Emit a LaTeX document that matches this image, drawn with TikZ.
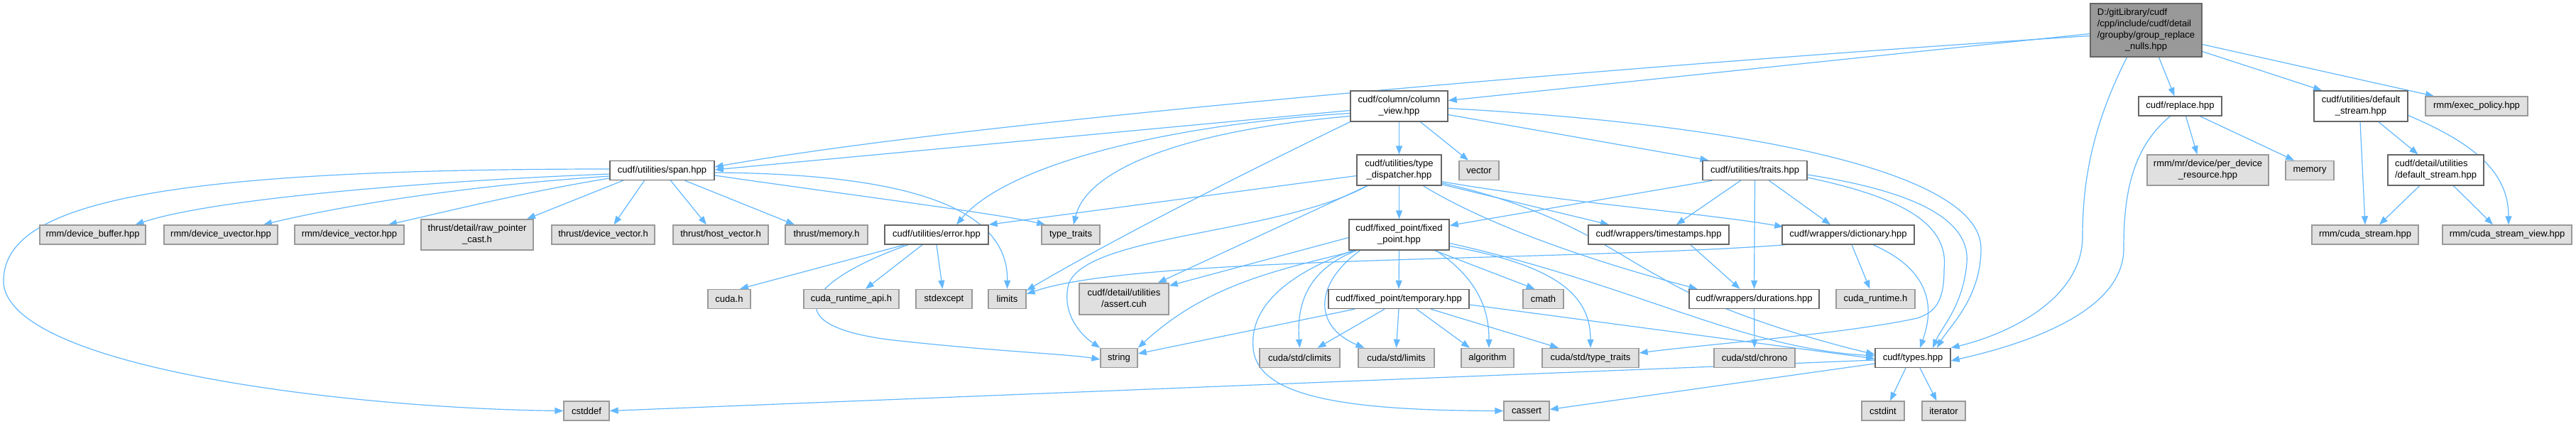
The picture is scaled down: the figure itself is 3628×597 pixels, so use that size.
\documentclass[tikz,border=0pt]{standalone}
\usepackage{fontspec}
\setmainfont{Liberation Sans}
\usetikzlibrary{arrows.meta,backgrounds}
\definecolor{edgec}{HTML}{63B8FF}
\definecolor{extfill}{HTML}{E0E0E0}
\definecolor{extdraw}{HTML}{999999}
\definecolor{docdraw}{HTML}{666666}
\definecolor{rootfill}{HTML}{999999}
\newcommand{\twol}[2]{\begin{tabular}{@{}l@{}}#1\\\multicolumn{1}{@{}c@{}}{#2}\end{tabular}}
\begin{document}
\begin{tikzpicture}[x=1pt,y=-1pt,
  box/.style={draw, line width=1.4pt, inner sep=0pt, font=\fontsize{13}{16}\selectfont, align=center},
  doc/.style={box, draw=docdraw, fill=white},
  ext/.style={box, draw=extdraw, fill=extfill},
  rootn/.style={box, draw=docdraw, fill=rootfill},
  sz/.style 2 args={minimum width=#1pt, minimum height=#2pt},
  dep/.style={draw=edgec, line width=1.2pt, -{Triangle[length=12pt,width=9pt]}},
]
\useasboundingbox (0,0) rectangle (3628,597);
% nodes
\node[rootn,sz={157}{75}] (root) at (3022.5,42.5) {\begin{tabular}{@{}l@{}}D:/gitLibrary/cudf\\/cpp/include/cudf/detail\\/groupby/group\_replace\\\multicolumn{1}{@{}c@{}}{\_nulls.hpp}\end{tabular}};
\node[doc,sz={137}{43}] (colview) at (1970.5,149.5) {\twol{cudf/column/column}{\_view.hpp}};
\node[doc,sz={117}{27}] (replace) at (3070.5,149.5) {cudf/replace.hpp};
\node[doc,sz={132}{43}] (defstream) at (3325,149.5) {\twol{cudf/utilities/default}{\_stream.hpp}};
\node[ext,sz={144}{27}] (execpolicy) at (3488,149.5) {rmm/exec\_policy.hpp};
\node[doc,sz={147}{27}] (span) at (932.5,240) {cudf/utilities/span.hpp};
\node[doc,sz={119}{43}] (typedisp) at (1970.5,239.5) {\twol{cudf/utilities/type}{\_dispatcher.hpp}};
\node[ext,sz={56}{27}] (vector) at (2083,240) {vector};
\node[doc,sz={147}{27}] (traits) at (2471.5,240) {cudf/utilities/traits.hpp};
\node[ext,sz={171}{43}] (perdev) at (3109.5,239.5) {\twol{rmm/mr/device/per\_device}{\_resource.hpp}};
\node[ext,sz={68}{27}] (memory) at (3253,240) {memory};
\node[doc,sz={135}{43}] (detdefstream) at (3430.5,239.5) {\twol{cudf/detail/utilities}{/default\_stream.hpp}};
\node[ext,sz={149}{27}] (devbuf) at (130.5,330.5) {rmm/device\_buffer.hpp};
\node[ext,sz={160}{27}] (devuvec) at (311,330.5) {rmm/device\_uvector.hpp};
\node[ext,sz={154}{27}] (devvec) at (492,330.5) {rmm/device\_vector.hpp};
\node[ext,sz={158}{43}] (rawptr) at (672,330.5) {\twol{thrust/detail/raw\_pointer}{\_cast.h}};
\node[ext,sz={145}{27}] (thrustdevvec) at (849.5,330.5) {thrust/device\_vector.h};
\node[ext,sz={134}{27}] (hostvec) at (1015,330.5) {thrust/host\_vector.h};
\node[ext,sz={116}{27}] (thrustmem) at (1164,330.5) {thrust/memory.h};
\node[doc,sz={146}{27}] (error) at (1319,330.5) {cudf/utilities/error.hpp};
\node[ext,sz={82}{27}] (typetraits) at (1508,330.5) {type\_traits};
\node[doc,sz={141}{43}] (fixedpoint) at (1970.5,330.5) {\twol{cudf/fixed\_point/fixed}{\_point.hpp}};
\node[doc,sz={198}{27}] (timestamps) at (2336,330.5) {cudf/wrappers/timestamps.hpp};
\node[doc,sz={186}{27}] (dictionary) at (2603,330.5) {cudf/wrappers/dictionary.hpp};
\node[ext,sz={150}{27}] (cudastream) at (3331,330.5) {rmm/cuda\_stream.hpp};
\node[ext,sz={182}{27}] (cudastreamview) at (3531,330.5) {rmm/cuda\_stream\_view.hpp};
\node[ext,sz={60}{27}] (cudah) at (1027,421) {cuda.h};
\node[ext,sz={134}{27}] (cudaruntimeapi) at (1199,421) {cuda\_runtime\_api.h};
\node[ext,sz={79}{27}] (stdexcept) at (1329.5,421) {stdexcept};
\node[ext,sz={53}{27}] (limits) at (1418.5,421) {limits};
\node[ext,sz={126}{44}] (assert) at (1583,421) {\twol{cudf/detail/utilities}{/assert.cuh}};
\node[doc,sz={198}{27}] (temporary) at (1970,421) {cudf/fixed\_point/temporary.hpp};
\node[ext,sz={57}{27}] (cmath) at (2173.5,421) {cmath};
\node[doc,sz={183}{27}] (durations) at (2470.5,421) {cudf/wrappers/durations.hpp};
\node[ext,sz={111}{27}] (cudaruntime) at (2641.5,421) {cuda\_runtime.h};
\node[ext,sz={52}{27}] (string) at (1576,504) {string};
\node[ext,sz={113}{27}] (climits) at (1830.5,504) {cuda/std/climits};
\node[ext,sz={107}{27}] (cudastdlimits) at (1966.5,504) {cuda/std/limits};
\node[ext,sz={74}{27}] (algorithm) at (2095,504) {algorithm};
\node[ext,sz={136}{27}] (cudastdtypetraits) at (2240,504) {cuda/std/type\_traits};
\node[ext,sz={114}{27}] (chrono) at (2471,504) {cuda/std/chrono};
\node[doc,sz={106}{27}] (types) at (2694,504) {cudf/types.hpp};
\node[ext,sz={64}{27}] (cstddef) at (826,578.5) {cstddef};
\node[ext,sz={64}{27}] (cassert) at (2150,578.5) {cassert};
\node[ext,sz={60}{27}] (cstdint) at (2652,578.5) {cstdint};
\node[ext,sz={61}{27}] (iterator) at (2737.5,578.5) {iterator};
% edges
\begin{pgfonlayer}{background}
\fill[white] (0,0) rectangle (3628,597);
% root
\draw[dep] ([yshift=-5pt]root.west) -- ([yshift=8pt]colview.east);
\draw[dep] ([yshift=-8pt]root.west) .. controls (2400,85) and (1400,165) .. ([yshift=5pt]span.east);
\draw[dep] ([xshift=18pt]root.south) -- ([xshift=-8pt]replace.north);
\draw[dep] ([yshift=-30pt]root.east) -- ([xshift=-55pt]defstream.north);
\draw[dep] ([yshift=-20pt]root.east) -- ([xshift=-60pt]execpolicy.north);
\draw[dep] ([xshift=-27pt]root.south) .. controls (2945,180) and (2933,260) .. (2933,333) .. controls (2933,420) and (2830,470) .. (types.north east);
% replace
\draw[dep] ([xshift=-14pt]replace.south) .. controls (3000,210) and (2991,280) .. (2991,350) .. controls (2991,440) and (2850,485) .. ([yshift=-4pt]types.east);
\draw[dep] ([xshift=8pt]replace.south) -- ([xshift=-15pt]perdev.north);
\draw[dep] ([xshift=28pt]replace.south) -- ([xshift=-22pt]memory.north);
% defstream
\draw[dep] ([xshift=-1pt]defstream.south) -- (cudastream.north);
\draw[dep] ([xshift=25pt]defstream.south) -- ([xshift=-25pt]detdefstream.north);
\draw[dep] ([yshift=-13pt]defstream.east) .. controls (3480,200) and (3533,240) .. ([xshift=2pt]cudastreamview.north);
\draw[dep] ([xshift=-23pt]detdefstream.south) -- ([xshift=20pt]cudastream.north);
\draw[dep] ([xshift=25pt]detdefstream.south) -- ([xshift=-20pt]cudastreamview.north);
% colview
\draw[dep] ([yshift=-6pt]colview.west) -- ([yshift=1pt]span.east);
\draw[dep] (colview.south) -- (typedisp.north);
\draw[dep] ([xshift=30pt]colview.south) -- ([xshift=-15pt]vector.north);
\draw[dep] ([yshift=-12pt]colview.east) -- ([xshift=-65pt]traits.north);
\draw[dep] ([yshift=-3pt]colview.east) .. controls (2450,175) and (2790,240) .. (2790,350) .. controls (2790,420) and (2745,460) .. ([xshift=34pt]types.north);
\draw[dep] ([yshift=-10pt]colview.west) .. controls (1650,175) and (1420,230) .. ([xshift=28pt]error.north);
\draw[dep] ([yshift=-14pt]colview.west) .. controls (1660,185) and (1530,240) .. ([xshift=4pt]typetraits.north);
\draw[dep] (colview.south west) .. controls (1760,240) and (1580,330) .. ([yshift=12pt]limits.east);
% typedisp
\draw[dep] ([yshift=-8pt]typedisp.west) -- (error.north east);
\draw[dep] (typedisp.south) -- (fixedpoint.north);
\draw[dep] ([yshift=2pt]typedisp.south east) -- ([xshift=-70pt]timestamps.north);
\draw[dep] ([yshift=6pt]typedisp.south east) .. controls (2200,285) and (2400,300) .. ([xshift=2pt,yshift=-3pt]dictionary.north west);
\draw[dep] ([xshift=34pt]typedisp.south) .. controls (2100,320) and (2250,370) .. ([xshift=-80pt]durations.north);
\draw[dep] ([yshift=4pt]typedisp.south east) .. controls (2200,295) and (2280,360) .. (2338,390) .. controls (2420,440) and (2560,480) .. ([yshift=5pt]types.west);
\draw[dep] ([xshift=-45pt]typedisp.south) .. controls (1800,330) and (1530,330) .. (1505,400) .. controls (1495,440) and (1520,470) .. (string.north west);
\draw[dep] ([xshift=-45pt]typedisp.south) -- ([xshift=-16pt]assert.north east);
% fixedpoint
\draw[dep] ([yshift=-4pt]fixedpoint.west) -- ([yshift=-4pt]assert.north east);
\draw[dep] (fixedpoint.south) -- (temporary.north);
\draw[dep] ([xshift=50pt]fixedpoint.south) -- ([xshift=-12pt]cmath.north);
\draw[dep] ([xshift=52pt]fixedpoint.south) .. controls (2085,395) and (2097,440) .. ([xshift=2pt]algorithm.north);
\draw[dep] ([yshift=-16pt]fixedpoint.east) .. controls (2200,375) and (2240,420) .. (cudastdtypetraits.north);
\draw[dep] ([yshift=-12pt]fixedpoint.east) .. controls (2300,400) and (2450,490) .. ([yshift=3pt]types.west);
\draw[dep] ([xshift=-60pt]fixedpoint.south) .. controls (1840,380) and (1826,430) .. (climits.north);
\draw[dep] ([xshift=-55pt]fixedpoint.south) .. controls (1850,400) and (1850,460) .. ([xshift=-45pt]cudastdlimits.north);
\draw[dep] ([xshift=-65pt]fixedpoint.south) .. controls (1800,390) and (1760,440) .. (1765,490) .. controls (1770,560) and (1900,578) .. (cassert.west);
\draw[dep] ([xshift=-60pt]fixedpoint.south) .. controls (1800,380) and (1700,400) .. (string.north east);
% temporary
\draw[dep] ([xshift=-62pt]temporary.south) -- ([yshift=6pt]string.east);
\draw[dep] ([xshift=-20pt]temporary.south) -- ([xshift=25pt]climits.north);
\draw[dep] (temporary.south) -- (cudastdlimits.north);
\draw[dep] ([xshift=25pt]temporary.south) -- ([xshift=-25pt]algorithm.north);
\draw[dep] ([xshift=45pt]temporary.south) -- ([xshift=-45pt]cudastdtypetraits.north);
\draw[dep] ([yshift=-8pt]temporary.east) -- ([yshift=-1pt]types.west);
% traits
\draw[dep] ([xshift=-60pt]traits.south) -- ([yshift=13pt]fixedpoint.east);
\draw[dep] ([xshift=-20pt]traits.south) -- ([xshift=25pt]timestamps.north);
\draw[dep] (traits.south) -- (durations.north);
\draw[dep] ([xshift=20pt]traits.south) -- ([xshift=-25pt]dictionary.north);
\draw[dep] ([yshift=-6pt]traits.east) .. controls (2700,270) and (2775,310) .. (2770,370) .. controls (2765,430) and (2735,460) .. ([xshift=28pt]types.north);
\draw[dep] ([yshift=-10pt]traits.east) .. controls (2690,280) and (2745,320) .. (2738,380) .. controls (2738,425) and (2725,440) .. (2700,448) .. controls (2600,470) and (2400,485) .. ([yshift=7pt]cudastdtypetraits.east);
% timestamps, dictionary, durations
\draw[dep] ([xshift=45pt]timestamps.south) -- ([xshift=-20pt]durations.north);
\draw[dep] ([xshift=35pt]dictionary.south) .. controls (2730,385) and (2720,445) .. ([xshift=10pt]types.north);
\draw[dep] ([xshift=5pt]dictionary.south) -- ([xshift=-8pt]cudaruntime.north);
\draw[dep] ([xshift=5pt]dictionary.south west) .. controls (2200,368) and (1600,360) .. ([yshift=7pt]limits.east);
\draw[dep] (durations.south) -- (chrono.north);
% types
\draw[dep] ([yshift=-3pt]types.west) -- (cstddef.east);
\draw[dep] ([yshift=-8pt]types.west) -- ([yshift=2pt]cassert.east);
\draw[dep] ([xshift=-10pt]types.south) -- ([xshift=10pt]cstdint.north);
\draw[dep] ([xshift=10pt]types.south) -- ([xshift=-10pt]iterator.north);
% span
\draw[dep] ([yshift=-5pt]span.west) .. controls (600,255) and (300,280) .. ([xshift=60pt]devbuf.north);
\draw[dep] ([yshift=-8pt]span.west) .. controls (650,262) and (480,290) .. ([xshift=60pt]devuvec.north);
\draw[dep] ([yshift=-11pt]span.west) .. controls (740,270) and (620,300) .. ([xshift=55pt]devvec.north);
\draw[dep] ([xshift=-55pt]span.south) -- ([xshift=70pt]rawptr.north);
\draw[dep] ([xshift=-25pt]span.south) -- ([xshift=15pt]thrustdevvec.north);
\draw[dep] ([xshift=12pt]span.south) -- ([xshift=-20pt]hostvec.north);
\draw[dep] ([xshift=32pt]span.south) -- ([xshift=-45pt]thrustmem.north);
\draw[dep] ([yshift=-7pt]span.east) .. controls (1200,275) and (1400,300) .. ([xshift=6pt]typetraits.north west);
\draw[dep] ([yshift=-3pt]span.east) .. controls (1300,245) and (1420,300) .. (limits.north);
\draw[dep] ([yshift=2pt]span.west) .. controls (200,238) and (0,290) .. (5,400) .. controls (20,520) and (500,575) .. (cstddef.west);
% error
\draw[dep] ([xshift=-45pt]error.south) -- ([xshift=15pt]cudah.north);
\draw[dep] ([xshift=-20pt]error.south) -- ([xshift=20pt]cudaruntimeapi.north);
\draw[dep] (error.south) -- ([xshift=-2pt]stdexcept.north);
\draw[dep] ([xshift=-40pt]error.south) .. controls (1150,390) and (1080,455) .. (1250,478) .. controls (1400,495) and (1500,498) .. ([yshift=-2pt]string.west);
\end{pgfonlayer}
\end{tikzpicture}
\end{document}
